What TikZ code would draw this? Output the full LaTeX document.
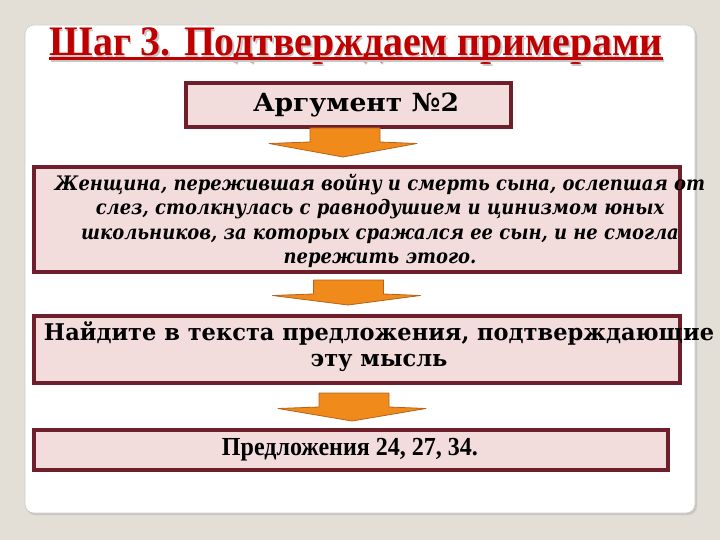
\documentclass[tikz,border=0pt]{standalone}
\usepackage{fontspec}
\setmainfont{Liberation Serif}
\newfontfamily\slab{DejaVu Serif}
\usetikzlibrary{calc}
\definecolor{bgc}{HTML}{E3DED6}
\definecolor{titlered}{HTML}{C00000}
\definecolor{boxfill}{HTML}{F2DDDC}
\definecolor{boxline}{HTML}{6F1F2C}
\definecolor{arrfill}{HTML}{F08A1A}
\definecolor{arredge}{HTML}{B5621C}
\newcommand\fitto[2]{\resizebox{#1}{\height}{#2}}
\newcommand\titletext{Шаг 3. Подтверждаем примерами}
\newcommand\flowarrow[2]{%
  \fill[arrfill, draw=arredge, line width=0.8pt, line join=round]
  ($(#1)+(-35,0)$) -- ($(#1)+(35,0)$) -- ($(#1)+(35,14)$) -- ($(#1)+(72,15.5)$)
  -- (#2) -- ($(#1)+(-76,15.5)$) -- ($(#1)+(-35,14)$) -- cycle;}
\begin{document}
\begin{tikzpicture}[x=1pt,y=-1pt,
  flowbox/.style={draw=boxline, fill=boxfill, line width=3.5pt, inner sep=0pt},
  plain/.style={inner sep=0pt, outer sep=0pt}]
\useasboundingbox (0,0) rectangle (720,540);
\fill[bgc] (0,0) rectangle (720,540);
% panel
\fill[gray!45, rounded corners=9pt] (26,27) rectangle (697,515);
\filldraw[fill=white, draw=gray!40, line width=0.6pt, rounded corners=9pt] (25,25) rectangle (695,513);
% title (with shadow inside the same node)
\node[plain, text=titlered] (title) at (356,47) {\fontsize{42}{42}\selectfont\bfseries\fitto{613pt}{%
  \rlap{\hspace{1.5pt}\raisebox{-1.8pt}{\textcolor{gray!45}{\titletext}}}\titletext}};
\draw[gray!45, line width=2.5pt] ($(title.base west)+(1.5,4.8)$) -- ($(title.base east)+(1.5,4.8)$);
\draw[titlered, line width=2.5pt] ($(title.base west)+(0,3)$) -- ($(title.base east)+(0,3)$);
% boxes
\node[flowbox, minimum width=325pt, minimum height=44pt] (arg) at (348.5,105) {};
\node[flowbox, minimum width=646pt, minimum height=105pt] (b2) at (357,219.5) {};
\node[flowbox, minimum width=646pt, minimum height=67pt] (b3) at (357,349.5) {};
\node[flowbox, minimum width=634pt, minimum height=40pt] (b4) at (351,450) {};
% texts
\node[plain] (argtext) at (356,105) {\slab\bfseries\fontsize{25}{25}\selectfont\fitto{206pt}{Аргумент №2}};
\node[plain] (b2text) at (380,222) {\slab\bfseries\itshape\fontsize{20}{24.5}\selectfont
  \fitto{650pt}{\begin{tabular}{@{}c@{}}Женщина, пережившая войну и смерть сына, ослепшая от\\
  слез, столкнулась с равнодушием и цинизмом юных\\
  школьников, за которых сражался ее сын, и не смогла\\
  пережить этого.\end{tabular}}};
\node[plain] (b3text) at (379,348) {\slab\bfseries\fontsize{23}{26}\selectfont
  \fitto{670pt}{\begin{tabular}{@{}c@{}}Найдите в текста предложения, подтверждающие\\
  эту мысль\end{tabular}}};
\node[plain] (b4text) at (350,450) {\bfseries\fontsize{26}{26}\selectfont\fitto{256pt}{Предложения 24, 27, 34.}};
% arrows
\coordinate (a1) at (345,128);
\coordinate (t1) at (343,157);
\coordinate (a2) at (348.5,280);
\coordinate (t2) at (348,305);
\coordinate (a3) at (354,393);
\coordinate (t3) at (352,421);
\flowarrow{a1}{t1}
\flowarrow{a2}{t2}
\flowarrow{a3}{t3}
\end{tikzpicture}
\end{document}
